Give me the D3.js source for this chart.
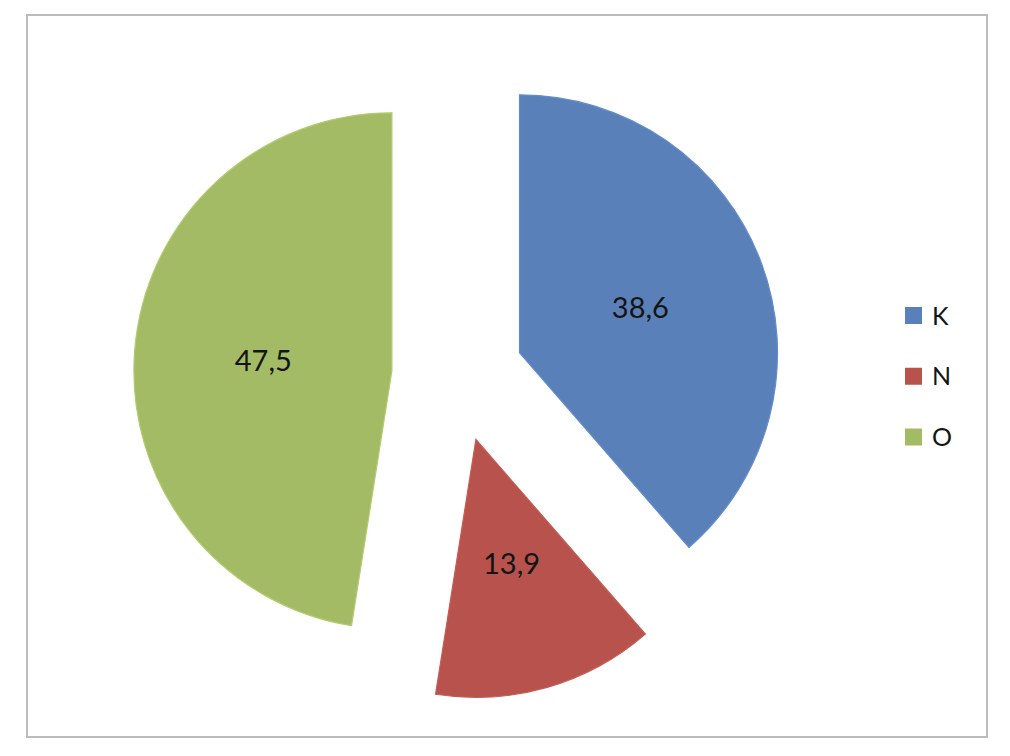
<!DOCTYPE html>
<html>
<head>
<meta charset="utf-8">
<script src="https://cdn.jsdelivr.net/npm/d3@7/dist/d3.min.js"></script>
<style>
  html, body { margin: 0; padding: 0; background: #fff; }
  svg { display: block; }
</style>
</head>
<body>
<svg id="chart" width="1010" height="756"></svg>
<script>
// ---- data ----
const categories = ["K", "N", "O"];
const values = [38.6, 13.9, 47.5];
const labels = ["38,6", "13,9", "47,5"];
const colors = ["#5a80ba", "#b7534c", "#a3bb65"];

// ---- layout ----
const W = 1010, H = 756;
const cx = 457.7, cy = 376;
const radius = 258;
const explode = 66;

const svg = d3.select("#chart");

// frame
svg.append("rect")
  .attr("x", 27).attr("y", 15)
  .attr("width", 960).attr("height", 722)
  .attr("fill", "#fff")
  .attr("stroke", "#bcbcbc")
  .attr("stroke-width", 2);

const data = categories.map((c, i) => ({ cat: c, value: values[i], label: labels[i], color: colors[i] }));

const pie = d3.pie().value(d => d.value).sort(null);
const arc = d3.arc().innerRadius(0).outerRadius(radius);

const arcs = pie(data);

const g = svg.append("g").attr("transform", `translate(${cx},${cy})`);

const slice = g.selectAll("g.slice")
  .data(arcs)
  .join("g")
  .attr("class", "slice")
  .attr("transform", d => {
    const a = (d.startAngle + d.endAngle) / 2;
    return `translate(${explode * Math.sin(a)},${-explode * Math.cos(a)})`;
  });

slice.append("path")
  .attr("d", arc)
  .attr("fill", d => d.data.color)
  .attr("stroke", d => d3.color(d.data.color).brighter(0.25))
  .attr("stroke-width", 1.2);

slice.append("text")
  .attr("transform", d => `translate(${arc.centroid(d)})`)
  .attr("text-anchor", "middle")
  .attr("dy", "0.36em")
  .attr("font-family", "Lato, 'Open Sans', sans-serif")
  .attr("font-size", 29)
  .attr("fill", "#141414")
  .text(d => d.data.label);

// legend
const legendY = d3.scalePoint().domain(categories).range([315.5, 437]);
const legend = svg.append("g");
const item = legend.selectAll("g")
  .data(data)
  .join("g")
  .attr("transform", d => `translate(905,${legendY(d.cat)})`);

item.append("rect")
  .attr("x", 0).attr("y", -8.5)
  .attr("width", 17).attr("height", 17)
  .attr("fill", d => d.color);

item.append("text")
  .attr("x", 27)
  .attr("y", 0)
  .attr("dy", "0.36em")
  .attr("font-family", "Lato, 'Open Sans', sans-serif")
  .attr("font-size", 25)
  .attr("fill", "#141414")
  .text(d => d.cat);
</script>
</body>
</html>
